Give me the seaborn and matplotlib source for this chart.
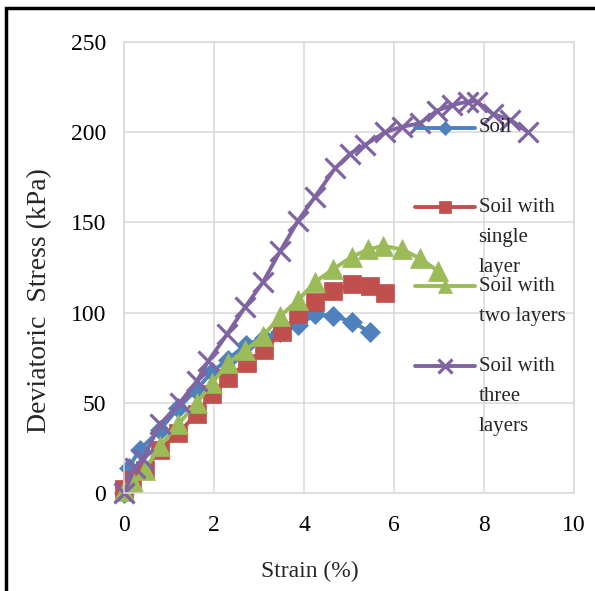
import numpy as np
import pandas as pd
import seaborn as sns
import matplotlib.pyplot as plt
from matplotlib.patches import Rectangle

sns.set_theme(style="whitegrid")
plt.rcParams['font.family'] = ['Liberation Serif', 'DejaVu Serif']

# strain (%) / deviatoric stress (kPa)
soil_x = [0, 0.1, 0.35, 0.8, 1.2, 1.6, 1.95, 2.3, 2.7, 3.1, 3.47, 3.87, 4.25, 4.65, 5.07, 5.47]
soil_y = [0, 14, 24, 35, 47, 57, 67, 74, 82, 86, 89, 93, 99, 98, 95, 89]

single_x = [0, 0.17, 0.47, 0.8, 1.2, 1.62, 1.96, 2.3, 2.73, 3.1, 3.5, 3.87, 4.25, 4.65, 5.07, 5.47, 5.8]
single_y = [2, 7, 13, 24, 33, 44, 55, 64, 72, 79, 89, 99, 106, 112, 116, 115, 111]

two_x = [0, 0.2, 0.47, 0.8, 1.2, 1.62, 1.96, 2.31, 2.69, 3.09, 3.47, 3.87, 4.25, 4.64, 5.07, 5.42, 5.76, 6.18, 6.58, 6.98]
two_y = [1, 6, 13, 26, 38, 50, 61, 72, 79, 87, 98, 107, 117, 124, 131, 135, 137, 135, 130, 123]

three_x = [0, 0.24, 0.42, 0.8, 1.24, 1.62, 1.87, 2.29, 2.69, 3.09, 3.47, 3.87, 4.24, 4.69, 5.02,
           5.36, 5.8, 6.18, 6.58, 6.96, 7.29, 7.64, 7.84, 8.2, 8.58, 8.98]
three_y = [0, 14, 19, 38, 50, 62, 73, 88, 103, 117, 134, 151, 164, 180, 188,
           193, 200, 203, 205, 212, 215, 217, 217, 210, 207, 200]

labels = ['Soil', 'Soil with\nsingle\nlayer', 'Soil with\ntwo layers', 'Soil with\nthree\nlayers']
x_ticks = [0, 2, 4, 6, 8, 10]
y_ticks = [0, 50, 100, 150, 200, 250]

series = [
    (soil_x, soil_y, '#4F81BD', 'D', 10),
    (single_x, single_y, '#C0504D', 's', 13),
    (two_x, two_y, '#9BBB59', '^', 15),
    (three_x, three_y, '#8064A2', 'x', 14),
]

fig = plt.figure(figsize=(5.95, 5.91), dpi=100)
ax = fig.add_axes([124 / 595, 98 / 591, 450 / 595, 451 / 591])

for (xs, ys, col, mk, ms), lab in zip(series, labels):
    sns.lineplot(x=xs, y=ys, ax=ax, sort=False, color=col, marker=mk, markersize=ms,
                 markeredgecolor=col, markeredgewidth=2.3 if mk == 'x' else 0.5,
                 lw=2.8, label=lab, clip_on=False)

ax.set_xlim(0, 10)
ax.set_ylim(0, 250)
ax.set_xticks(x_ticks)
ax.set_yticks(y_ticks)
ax.grid(True, color='#d9d9d9', lw=1.1)
for sp in ax.spines.values():
    sp.set_color('#d9d9d9')
    sp.set_linewidth(1.1)
ax.tick_params(axis='both', length=0, labelsize=17, colors='black')
ax.tick_params(axis='y', pad=13)
ax.tick_params(axis='x', pad=16)

ax.set_xlabel('Strain (%)', fontsize=17, va='center')
ax.set_ylabel('Deviatoric  Stress (kPa)', fontsize=20, va='center')
ax.xaxis.set_label_coords(0.413, -0.175)
ax.yaxis.set_label_coords(-0.187, 0.426)

# legend: pad labels so the handle sits on the first line, like the original
handles, _ = ax.get_legend_handles_labels()
padded = ['\n\nSoil\n\n', '\n\nSoil with\nsingle\nlayer', '\n\nSoil with\ntwo layers\n',
          '\n\nSoil with\nthree\nlayers']
leg = ax.legend(handles, padded, loc='center left', bbox_to_anchor=(415 / 595, (591 - 247) / 591),
                bbox_transform=fig.transFigure, frameon=False, fontsize=15,
                handlelength=2.9, handletextpad=0.15, labelspacing=-2.9, markerscale=0.7,
                borderpad=0, borderaxespad=0)
for t in leg.get_texts():
    t.set_linespacing(1.8)

# black frame on the left and top edges of the picture
fig.patches.append(Rectangle((6 / 595, -0.1), 1.2, (591 - 8) / 591 + 0.1, fill=False,
                             ec='black', lw=2.5, transform=fig.transFigure, figure=fig))

fig.savefig('out.png', dpi=100)
